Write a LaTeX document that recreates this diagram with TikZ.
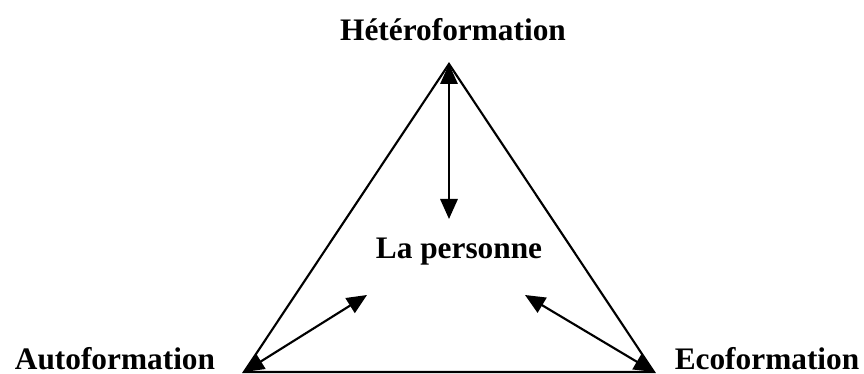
\documentclass[tikz,border=0pt]{standalone}
\usepackage{fontspec}
\setmainfont{Liberation Serif}
\usetikzlibrary{arrows.meta}
\begin{document}
\begin{tikzpicture}[x=0.75pt,y=-0.75pt,
  edge/.style={line width=1.6pt},
  arr/.style={line width=1.6pt,{Triangle[length=15pt,width=13pt]}-{Triangle[length=15pt,width=13pt]}},
  lbl/.style={font=\fontsize{23.5}{28}\selectfont\bfseries,anchor=base,inner sep=0pt}]
\useasboundingbox (0,0) rectangle (864,374);
\coordinate (top) at (449,64);
\coordinate (bl) at (244,372);
\coordinate (br) at (654,372);
\coordinate (vt) at (449,219);
\coordinate (lt) at (367,295);
\coordinate (rt) at (525,295);
\draw[edge,line join=miter] (top) -- (bl) -- (br) -- cycle;
\draw[arr] (top) -- (vt);
\draw[arr] (bl) -- (lt);
\draw[arr] (br) -- (rt);
\node[lbl] (het) at (453,41) {Hétéroformation};
\node[lbl] (auto) at (115,369) {Autoformation};
\node[lbl] (eco) at (767,369) {Ecoformation};
\node[lbl] (pers) at (459,258) {La personne};
\end{tikzpicture}
\end{document}
